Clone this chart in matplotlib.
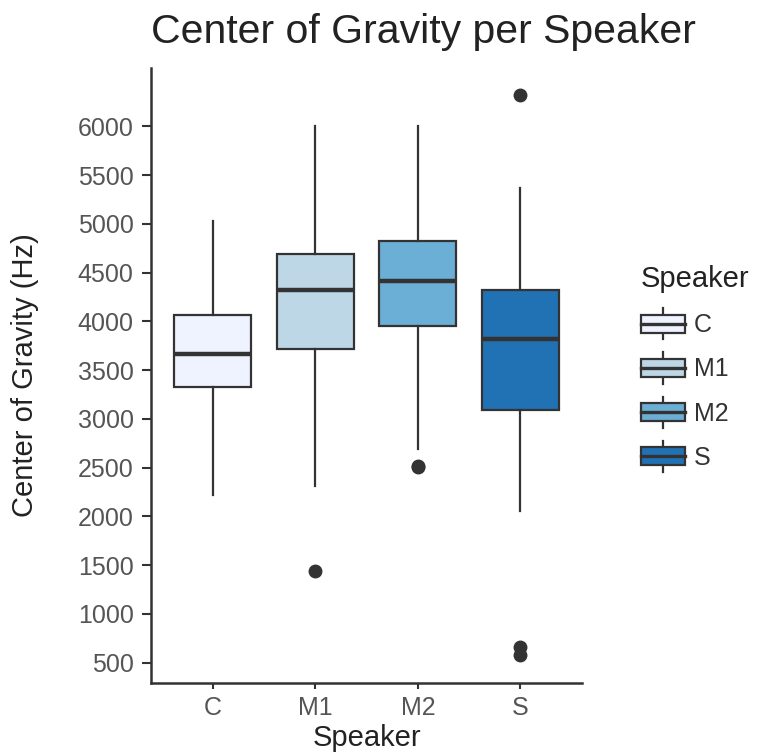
import matplotlib
matplotlib.use('Agg')
import matplotlib.pyplot as plt
from matplotlib.patches import Patch, Rectangle
from matplotlib.lines import Line2D
from matplotlib.legend_handler import HandlerBase

plt.rcParams['font.family'] = ['Liberation Sans', 'DejaVu Sans']

# values (Hz)
speakers = ['C', 'M1', 'M2', 'S']
q1 = [3327, 3712, 3949, 3086]
med = [3669, 4319, 4411, 3823]
q3 = [4061, 4695, 4829, 4326]
whislo = [2217, 2312, 2690, 2052]
whishi = [5034, 6000, 6000, 5370]
fliers = [[], [1438], [2520, 2505], [6318, 664, 582]]
colors = ['#eff3ff', '#bdd7e7', '#6baed6', '#2171b5']
yticks = [500, 1000, 1500, 2000, 2500, 3000, 3500, 4000, 4500, 5000, 5500, 6000]

dark = '#333333'

# legend key looking like ggplot's boxplot key
class BoxKey(HandlerBase):
    def create_artists(self, legend, orig_handle, xdescent, ydescent,
                       width, height, fontsize, trans):
        x0, y0 = -xdescent, -ydescent
        cx = x0 + width / 2
        whisk = Line2D([cx, cx], [y0 - 0.2 * height, y0 + 1.2 * height],
                       color=dark, lw=1.6, transform=trans)
        box = Rectangle((x0, y0 + 0.1 * height), width, 0.8 * height,
                        facecolor=orig_handle.get_facecolor(), edgecolor=dark,
                        lw=1.6, transform=trans)
        mline = Line2D([x0, x0 + width], [y0 + 0.5 * height] * 2,
                       color=dark, lw=2.4, transform=trans)
        return [whisk, box, mline]


fig = plt.figure(figsize=(7.78, 7.55), dpi=100)
ax = fig.add_axes([0.1941, 0.0954, 0.554, 0.8146])

stats = []
for i in range(len(speakers)):
    stats.append({'label': speakers[i], 'q1': q1[i], 'med': med[i], 'q3': q3[i],
                  'whislo': whislo[i], 'whishi': whishi[i], 'fliers': fliers[i]})

bp = ax.bxp(stats, positions=range(1, 5), widths=0.75, patch_artist=True,
            showcaps=False,
            boxprops=dict(edgecolor=dark, linewidth=1.6),
            whiskerprops=dict(color=dark, linewidth=1.6),
            medianprops=dict(color=dark, linewidth=3.2, solid_capstyle='butt'),
            flierprops=dict(marker='o', markerfacecolor=dark, markeredgecolor=dark,
                            markersize=9, linestyle='none'))
for patch, c in zip(bp['boxes'], colors):
    patch.set_facecolor(c)

ax.set_xlim(0.4, 4.6)
ax.set_ylim(290, 6600)
ax.set_yticks(yticks)
ax.set_xticks(range(1, 5))
ax.set_xticklabels(speakers)

for s in ['top', 'right']:
    ax.spines[s].set_visible(False)
for s in ['left', 'bottom']:
    ax.spines[s].set_linewidth(1.8)
    ax.spines[s].set_color(dark)

ax.tick_params(axis='both', length=6.5, width=1.5, color=dark,
               labelsize=18, labelcolor='#555555')
ax.tick_params(axis='y', pad=6)
ax.tick_params(axis='x', pad=5, length=4.5)

ax.set_xlabel('Speaker', fontsize=21, color='#222222', labelpad=3)
ax.set_ylabel('Center of Gravity (Hz)', fontsize=21, color='#222222')
ax.yaxis.set_label_coords(-0.26, 0.5)

fig.text(151 / 778, 1 - 43 / 755, 'Center of Gravity per Speaker',
         fontsize=29.5, color='#222222', ha='left', va='baseline')

handles = [Patch(facecolor=c) for c in colors]
leg = fig.legend(handles, speakers, handler_map={Patch: BoxKey()},
                 loc='upper left', bbox_to_anchor=(641 / 778, 1 - 265 / 755),
                 bbox_transform=fig.transFigure, frameon=False, borderpad=0,
                 borderaxespad=0, fontsize=18, title='Speaker', title_fontsize=21,
                 alignment='left', handlelength=1.75, handleheight=1.0,
                 labelspacing=0.78, handletextpad=0.35)
for t in leg.get_texts():
    t.set_color('#333333')
leg.get_title().set_color('#222222')

fig.savefig('out.png', dpi=100)
